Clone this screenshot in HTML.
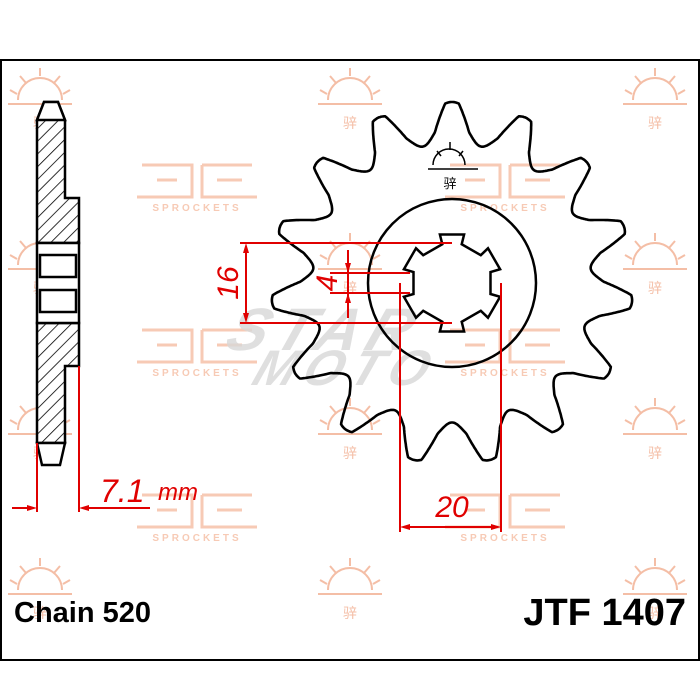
<!DOCTYPE html>
<html><head><meta charset="utf-8"><style>
html,body{margin:0;padding:0;background:#fff;}
svg{display:block}
</style></head><body>
<svg id="s" width="700" height="700" viewBox="0 0 700 700" xmlns="http://www.w3.org/2000/svg" font-family="Liberation Sans, sans-serif">
<defs>
<pattern id="h" patternUnits="userSpaceOnUse" width="9" height="9" patternTransform="rotate(45)">
<rect width="9" height="9" fill="#fff"/><line x1="0" y1="0" x2="0" y2="9" stroke="#000" stroke-width="1.6"/>
</pattern>
<g id="sun" fill="none" stroke="#f3b79c" stroke-width="2">
<path d="M-22 0 A22 22 0 0 1 22 0"/><line x1="-32" y1="4" x2="32" y2="4"/>
<line x1="0" y1="-32" x2="0" y2="-24"/><line x1="-20" y1="-24" x2="-14" y2="-17"/><line x1="20" y1="-24" x2="14" y2="-17"/>
<line x1="-30" y1="-10" x2="-23" y2="-6"/><line x1="30" y1="-10" x2="23" y2="-6"/>
<text x="0" y="28" font-size="14" fill="#f3b79c" stroke="none" text-anchor="middle">骍</text>
</g>
<g id="jt" fill="none" stroke="#f6c5ad" stroke-width="3">
<path d="M-55 -20 H-5 V12 H-60 M-40 -5 H-20 M5 -20 H55 M5 -20 V12 H60 M20 -5 H45"/>
<text x="0" y="26" font-size="10" font-weight="bold" fill="#f6c5ad" stroke="none" text-anchor="middle" letter-spacing="3">SPROCKETS</text>
</g>
</defs>
<rect x="1" y="60" width="698" height="600" fill="#fff" stroke="#000" stroke-width="2"/>
<g opacity="0.9">
<use href="#sun" x="40" y="100"/><use href="#sun" x="350" y="100"/><use href="#sun" x="655" y="100"/>
<use href="#sun" x="40" y="265"/><use href="#sun" x="655" y="265"/>
<use href="#sun" x="40" y="430"/><use href="#sun" x="350" y="430"/><use href="#sun" x="655" y="430"/>
<use href="#sun" x="40" y="590"/><use href="#sun" x="350" y="590"/><use href="#sun" x="655" y="590"/>
<use href="#sun" x="350" y="265"/>
<use href="#jt" x="197" y="185"/><use href="#jt" x="505" y="185"/>
<use href="#jt" x="197" y="350"/><use href="#jt" x="505" y="350"/>
<use href="#jt" x="197" y="515"/><use href="#jt" x="505" y="515"/>
</g>
<text x="230" y="350" font-size="60" font-style="italic" font-weight="bold" fill="#d8d8d8" opacity="0.8" letter-spacing="8" transform="skewX(-20) translate(120,0)">STAR</text>
<text x="260" y="385" font-size="50" font-style="italic" font-weight="bold" fill="#d8d8d8" opacity="0.8" letter-spacing="8" transform="skewX(-20) translate(130,0)">MOTO</text>
<path id="gear" fill="none" stroke="#000" stroke-width="2.6"/>
<circle cx="452" cy="283" r="84" fill="none" stroke="#000" stroke-width="2.5"/>
<path id="spl" fill="none" stroke="#000" stroke-width="2.5"/>
<g fill="none" stroke="#000" stroke-width="1.5">
<path d="M433 165 A16 16 0 0 1 465 165"/><line x1="428" y1="169" x2="478" y2="169"/><line x1="450" y1="142" x2="450" y2="150"/>
<line x1="437" y1="151" x2="441" y2="156"/><line x1="463" y1="151" x2="459" y2="156"/>
</g>
<text x="450" y="188" font-size="13" text-anchor="middle">骍</text>
<path d="M37 120 L44 102 L58 102 L65 120 L65 198 L79 198 L79 243 L37 243 Z" fill="url(#h)" stroke="#000" stroke-width="2.5"/>
<path d="M37 323 L79 323 L79 366 L65 366 L65 443 L37 443 Z" fill="url(#h)" stroke="#000" stroke-width="2.5"/>
<path d="M37 443 L65 443 L60 465 L42 465 Z" fill="#fff" stroke="#000" stroke-width="2.5"/>
<path d="M37 120 L44 102 L58 102 L65 120 Z" fill="#fff" stroke="#000" stroke-width="2.5"/>
<rect x="37" y="243" width="42" height="80" fill="#fff" stroke="#000" stroke-width="2.5"/>
<rect x="40" y="255" width="36" height="22" fill="#fff" stroke="#000" stroke-width="2.5"/>
<rect x="40" y="290" width="36" height="22" fill="#fff" stroke="#000" stroke-width="2.5"/>
<g stroke="#e00000" stroke-width="2" fill="none">
<line x1="240" y1="243" x2="452" y2="243"/><line x1="240" y1="323" x2="452" y2="323"/>
<line x1="246" y1="248" x2="246" y2="318"/>
<line x1="330" y1="273" x2="410" y2="273"/><line x1="330" y1="293" x2="410" y2="293"/>
<line x1="348" y1="250" x2="348" y2="318"/>
<line x1="400" y1="283" x2="400" y2="532"/><line x1="501" y1="283" x2="501" y2="532"/>
<line x1="405" y1="527" x2="496" y2="527"/>
<line x1="37" y1="443" x2="37" y2="512"/><line x1="79" y1="366" x2="79" y2="512"/>
<line x1="12" y1="508" x2="32" y2="508"/><line x1="84" y1="508" x2="150" y2="508"/>
</g>
<g fill="#e00000">
<path d="M246 243 l-3 10 h6z"/><path d="M246 323 l-3 -10 h6z"/>
<path d="M348 273 l-3 -10 h6z"/><path d="M348 293 l-3 10 h6z"/>
<path d="M400 527 l10 -3 v6z"/><path d="M501 527 l-10 -3 v6z"/>
<path d="M37 508 l-10 -3 v6z"/><path d="M79 508 l10 -3 v6z"/>
</g>
<g fill="#e00000" font-style="italic">
<text x="0" y="0" font-size="30" transform="translate(238,283) rotate(-90)" text-anchor="middle">16</text>
<text x="0" y="0" font-size="30" transform="translate(337,283) rotate(-90)" text-anchor="middle">4</text>
<text x="452" y="517" font-size="30" text-anchor="middle">20</text>
<text x="100" y="502" font-size="32">7.1</text>
<text x="158" y="500" font-size="24">mm</text>
</g>
<text x="14" y="622" font-size="29" font-weight="bold">Chain 520</text>
<text x="686" y="625" font-size="38" font-weight="bold" text-anchor="end">JTF 1407</text>
</svg>
<script>
(function(){
var cx=452,cy=283,d="";
for(var i=0;i<=15*90;i++){
 var a=i/(15*90)*360; var p=((a%24)+24)%24; if(p>12)p-=24; var q=Math.abs(p),r;
 if(q<2.2)r=181-1.5*(q/2.2)*(q/2.2); else if(q<6.5)r=179.5-(q-2.2)/4.3*28; else {var t=(q-6.5)/5.5;r=151.5-12*Math.sin(t*Math.PI/2);}
 var ang=(a-90)*Math.PI/180; d+=(i?"L":"M")+(cx+r*Math.cos(ang)).toFixed(1)+" "+(cy+r*Math.sin(ang)).toFixed(1);
}
document.getElementById("gear").setAttribute("d",d+"Z");
var s="";
for(var k=0;k<6;k++){
 var b=k*60-90;
 var pts=[[b-14,50],[b+14,50],[b+14,40],[b+46,40],[b+46,50]];
 pts.forEach(function(pp,j){var ang=pp[0]*Math.PI/180;s+=((k||j)?"L":"M")+(cx+pp[1]*Math.cos(ang)).toFixed(1)+" "+(cy+pp[1]*Math.sin(ang)).toFixed(1);});
}
document.getElementById("spl").setAttribute("d",s+"Z");
})();
</script>
</body></html>
